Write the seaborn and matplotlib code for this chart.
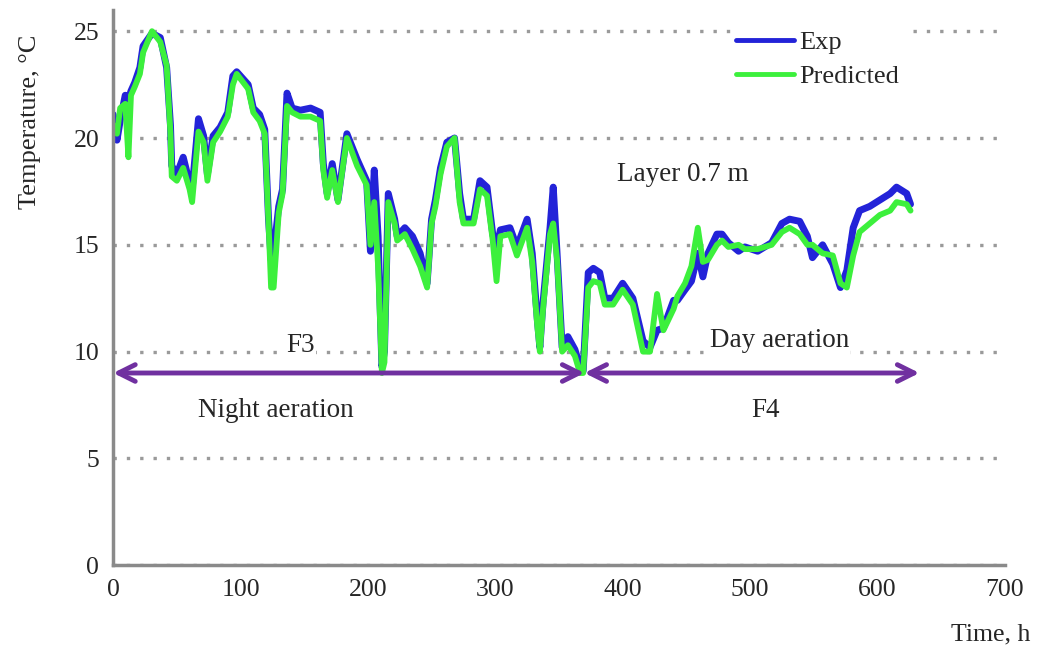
import numpy as np
import pandas as pd
import matplotlib
matplotlib.use("Agg")
import matplotlib.pyplot as plt
import seaborn as sns

# hours
time_h = [0, 3, 5.5, 9.5, 12, 14, 17, 21, 23.5, 30.5, 37, 42, 45, 46, 50, 55, 60, 62,
          67, 71, 74, 78.5, 84, 90, 94, 97, 106, 110, 115, 119, 122, 124, 126, 130,
          133, 136.5, 140.5, 147, 155, 162.5, 165, 168, 172, 176.5, 183.5, 191.5,
          199, 202, 205, 208, 211, 213, 216, 221, 223, 229, 235, 241, 246.5, 250,
          253, 257, 262, 268, 272, 275, 283, 288, 293.5, 298, 301, 304, 311.5, 317,
          325, 329, 333, 335, 337.5, 343, 345.5, 348.5, 352.5, 357, 362.5, 366.5,
          369, 373, 377, 382, 386, 392.5, 400, 408, 416, 421.5, 427, 432, 440, 443,
          449, 454, 459, 463, 467, 474, 478, 483, 491, 496, 506, 517, 525, 531, 539,
          545, 549, 557, 565, 571, 576, 581, 586, 594, 602, 610, 615, 623, 626]

# measured temperature, layer 0.7 m
exp_temp = [21.1, 19.9, 20.8, 22.0, 21.8, 22.2, 22.6, 23.3, 24.3, 24.9, 24.7, 23.3,
            20.6, 18.7, 18.3, 19.1, 17.9, 17.6, 20.9, 20.1, 18.3, 20.1, 20.5, 21.2,
            22.9, 23.1, 22.5, 21.4, 21.1, 20.4, 16.2, 14.3, 14.6, 16.8, 17.6, 22.1,
            21.4, 21.3, 21.4, 21.2, 18.8, 17.4, 18.8, 17.1, 20.2, 19.0, 18.0, 14.7,
            18.5, 15.4, 9.3, 10.0, 17.4, 16.2, 15.4, 15.8, 15.4, 14.6, 13.2, 16.2,
            17.1, 18.6, 19.8, 20.0, 17.4, 16.2, 16.2, 18.0, 17.7, 15.5, 14.8, 15.7,
            15.8, 14.9, 16.2, 14.6, 11.5, 10.2, 12.3, 15.8, 17.7, 14.6, 10.2, 10.7,
            10.1, 9.3, 9.1, 13.7, 13.9, 13.7, 12.5, 12.5, 13.2, 12.5, 10.5, 10.2,
            11.0, 11.1, 12.4, 12.4, 12.9, 13.3, 14.6, 13.5, 14.6, 15.5, 15.5, 15.1,
            14.7, 14.9, 14.7, 15.1, 16.0, 16.2, 16.1, 15.4, 14.4, 15.0, 14.1, 13.0,
            13.8, 15.8, 16.6, 16.8, 17.1, 17.4, 17.7, 17.4, 16.9]

# model prediction
pred_temp = [20.6, 20.2, 21.4, 21.6, 19.1, 22.0, 22.4, 23.0, 24.0, 25.0, 24.5, 23.4,
             20.2, 18.2, 18.0, 18.6, 17.6, 17.0, 20.3, 19.8, 18.0, 19.8, 20.3, 21.0,
             22.5, 23.0, 22.3, 21.2, 20.8, 20.2, 16.0, 13.0, 13.0, 16.5, 17.4, 21.5,
             21.2, 21.0, 21.0, 20.8, 18.5, 17.2, 18.5, 17.0, 20.0, 18.7, 17.8, 15.0,
             17.0, 14.0, 9.0, 9.5, 17.0, 16.0, 15.2, 15.5, 14.8, 14.0, 13.0, 16.0,
             16.8, 18.3, 19.6, 20.0, 17.0, 16.0, 16.0, 17.6, 17.3, 15.2, 13.3, 15.4,
             15.5, 14.5, 15.8, 14.2, 11.2, 10.0, 12.0, 15.5, 16.0, 14.3, 10.0, 10.3,
             9.8, 9.0, 9.0, 13.0, 13.3, 13.2, 12.2, 12.2, 12.9, 12.2, 10.0, 10.0,
             12.7, 11.0, 12.0, 12.6, 13.2, 14.0, 15.8, 14.2, 14.3, 15.0, 15.2, 14.9,
             15.0, 14.8, 14.8, 15.0, 15.6, 15.8, 15.5, 15.0, 15.0, 14.6, 14.5, 13.2,
             13.0, 14.5, 15.6, 16.0, 16.4, 16.6, 17.0, 16.9, 16.6]

series_names = ["Exp", "Predicted"]
series_colors = ["#2323d8", "#3cf03c"]

df = pd.concat([
    pd.DataFrame({"time": time_h, "temp": exp_temp, "series": "Exp"}),
    pd.DataFrame({"time": time_h, "temp": pred_temp, "series": "Predicted"}),
], ignore_index=True)

sns.set_style("white")
plt.rcParams["font.family"] = ["Liberation Serif", "DejaVu Serif"]

fig = plt.figure(figsize=(10.38, 6.55), dpi=100)
ax = fig.add_axes([0.109, 0.137, 0.859, 0.848])

for name, color, lw in zip(series_names, series_colors, [5.0, 4.2]):
    sns.lineplot(data=df[df["series"] == name], x="time", y="temp", color=color,
                 linewidth=lw, estimator=None, sort=False, ax=ax, zorder=3)

ax.set_xlim(0, 700)
ax.set_ylim(0, 26)
ax.set_xticks(np.arange(0, 701, 100))
ax.set_yticks(np.arange(0, 26, 5))
ax.set_xlabel("")
ax.set_ylabel("")

ax.grid(axis="y", color="#9a9a9a", linestyle=(0, (1, 3)), linewidth=2.4)
ax.grid(axis="x", visible=False)
for side in ["top", "right"]:
    ax.spines[side].set_visible(False)
for side in ["left", "bottom"]:
    ax.spines[side].set_color("#8a8a8a")
    ax.spines[side].set_linewidth(2.5)
    ax.spines[side].set_zorder(5)
ax.tick_params(direction="in", length=6, width=2, color="#8a8a8a", labelsize=18.5, pad=10)

# phase arrows
arrow_kw = dict(arrowstyle="<->", color="#7030a0", lw=3.5, mutation_scale=30,
                shrinkA=0, shrinkB=0)
ax.annotate("", xy=(0, 9.0), xytext=(370, 9.0), arrowprops=arrow_kw, zorder=4)
ax.annotate("", xy=(370, 9.0), xytext=(633, 9.0), arrowprops=arrow_kw, zorder=4)

white_box = dict(facecolor="white", edgecolor="none", pad=1)
ax.text(147, 10.3, "F3", fontsize=19.5, ha="center", va="center", bbox=white_box, zorder=4)
ax.text(128, 7.26, "Night aeration", fontsize=19.5, ha="center", va="center")
ax.text(523, 10.5, "Day aeration", fontsize=19.5, ha="center", va="center",
        bbox=white_box, zorder=4)
ax.text(512, 7.26, "F4", fontsize=19.5, ha="center", va="center")
ax.text(447, 18.3, "Layer 0.7 m", fontsize=19.5, ha="center", va="center")

lines = ax.get_lines()[:2]
leg = ax.legend(lines, series_names, loc="upper left", bbox_to_anchor=(0.678, 0.996),
                fontsize=19, frameon=True, facecolor="white", edgecolor="none",
                framealpha=1, handlelength=2.2, handletextpad=0.2, labelspacing=0.4,
                borderpad=0.2)
for h in leg.get_lines():
    h.set_linewidth(3.5)

fig.text(0.029, 0.814, "Temperature, °C", rotation=90, ha="center", va="center", fontsize=19)
fig.text(0.954, 0.031, "Time, h", ha="center", va="center", fontsize=18.5)

fig.savefig("out.png", dpi=100)
